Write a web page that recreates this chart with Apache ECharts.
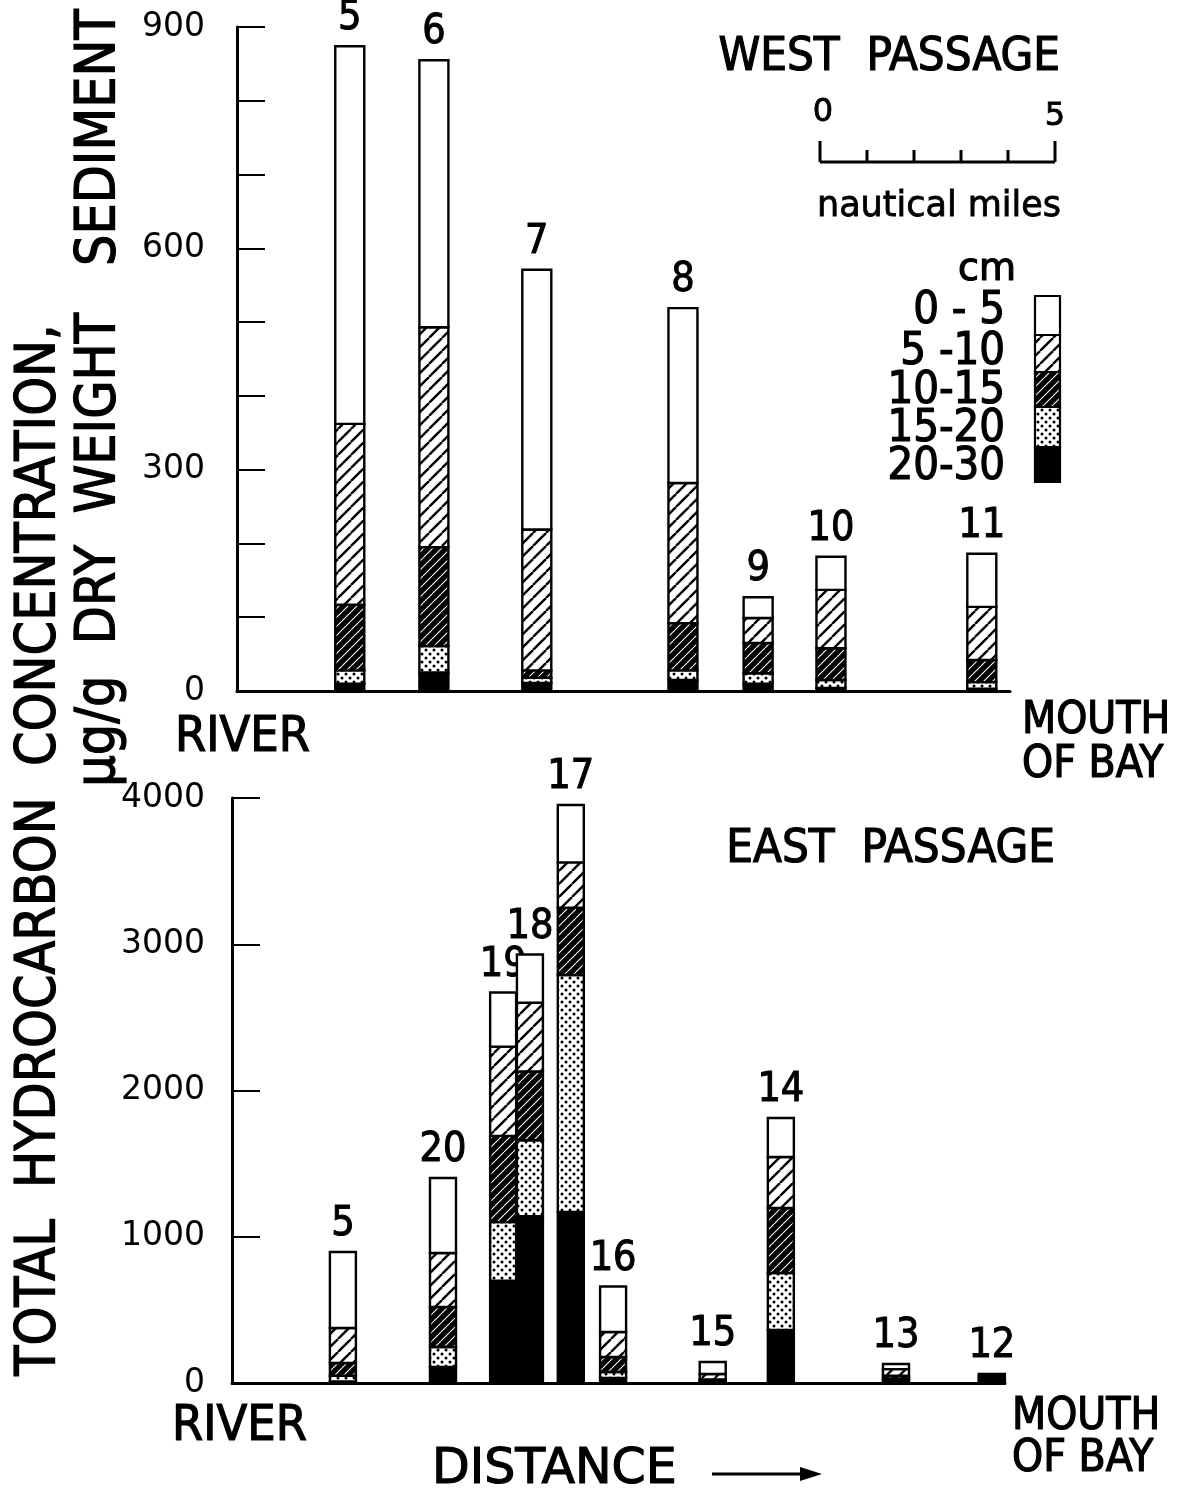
<!DOCTYPE html>
<html><head><meta charset="utf-8">
<script src="https://cdn.jsdelivr.net/npm/echarts@6/dist/echarts.min.js"></script>
<style>html,body{margin:0;padding:0;background:#fff}#c{width:1179px;height:1495px}</style>
</head><body><div id="c"></div>
<script>
// ---- data ----
const westStations = ['5','6','7','8','9','10','11'];
const westDist = [2.40, 4.19, 6.38, 9.49, 11.09, 12.64, 15.85]; // nautical miles from river
const west_0_5   = [512, 362, 352, 237, 28, 45, 72];
const west_5_10  = [245, 298, 191, 190, 34, 79, 72];
const west_10_15 = [89, 134, 10, 64, 41, 43, 30];
const west_15_20 = [18, 36, 7, 13, 14, 11, 9];
const west_20_30 = [10, 25, 11, 15, 10, 4, 3];

const eastStations = ['5','20','19','18','17','16','15','14','13','12'];
const eastDist = [2.36, 4.49, 5.77, 6.34, 7.21, 8.11, 10.23, 11.68, 14.13, 16.17];
const east_0_5   = [520, 513, 370, 330, 392, 311, 82, 267, 35, 12];
const east_5_10  = [239, 369, 610, 470, 310, 171, 37, 348, 45, 15];
const east_10_15 = [87, 274, 590, 470, 460, 103, 11, 445, 20, 10];
const east_15_20 = [40, 137, 400, 520, 1620, 40, 4, 390, 10, 10];
const east_20_30 = [10, 109, 700, 1140, 1170, 35, 10, 362, 20, 15];

const layerNames = ['20-30','15-20','10-15','5-10','0-5'];
const legendLabels = ['0 - 5','5 -10','10-15','15-20','20-30'];
const westTicks = [0, 300, 600, 900];
const eastTicks = [0, 1000, 2000, 3000, 4000];

// ---- patterns ----
function tile(size, draw){const c=document.createElement('canvas');c.width=size;c.height=size;const g=c.getContext('2d');draw(g,size);return c;}
const hatchC = tile(13,(g,s)=>{g.fillStyle='#fff';g.fillRect(0,0,s,s);g.strokeStyle='#000';g.lineWidth=2.4;for(const k of [-s,0,s]){g.beginPath();g.moveTo(k,s);g.lineTo(k+s,0);g.stroke();}});
const darkC = tile(9,(g,s)=>{g.fillStyle='#000';g.fillRect(0,0,s,s);g.strokeStyle='#fff';g.lineWidth=1.1;for(const k of [-s,0,s]){g.beginPath();g.moveTo(k,s);g.lineTo(k+s,0);g.stroke();}});
const dotC = tile(8,(g,s)=>{g.fillStyle='#fff';g.fillRect(0,0,s,s);g.fillStyle='#000';for(const p of [[2,2],[6,6]]){g.beginPath();g.arc(p[0],p[1],1.5,0,Math.PI*2);g.fill();}});
const pat = c => ({type:'pattern', image:c, repeat:'repeat'});
const fills = ['#000', pat(dotC), pat(darkC), pat(hatchC), '#fff']; // bottom -> top

const FONT = "'DejaVu Sans'";
const COND = "'DejaVu Sans Condensed','Liberation Sans Narrow','DejaVu Sans'";

const chart = echarts.init(document.getElementById('c'), null, {renderer:'canvas'});

// build stacked segments: [x, base, top, stationIndex]
function mkSeries(prefix, axisIdx, dist, layers, stations, bw){
  const base = dist.map(() => 0);
  return layers.map((vals, i) => {
    const data = vals.map((v, j) => { const d = [dist[j], base[j], base[j] + v, j]; base[j] += v; return d; });
    const isTop = i === layers.length - 1;
    return {
      name: prefix + layerNames[i], type:'custom', coordinateSystem:'cartesian2d',
      xAxisIndex: axisIdx, yAxisIndex: axisIdx, data: data, encode:{x:0, y:[1,2]},
      renderItem: (params, api) => {
        const x = api.value(0), y0 = api.value(1), y1 = api.value(2);
        const p0 = api.coord([x, y0]), p1 = api.coord([x, y1]);
        const children = [{type:'rect', shape:{x:p0[0]-bw/2, y:p1[1], width:bw, height:p0[1]-p1[1]},
          style:{fill:fills[i], stroke:'#000', lineWidth:2.4}}];
        if (isTop) children.push({type:'text', x:p1[0], y:p1[1]-7,
          style:{text:stations[api.value(3)], fill:'#000', stroke:'#000', lineWidth:1, font:'normal 41px '+COND, textAlign:'center', textVerticalAlign:'bottom'}});
        return {type:'group', children:children};
      },
      silent:true, animation:false
    };
  });
}

const yAxisCommon = {
  type:'value', min:0,
  axisLine:{show:true, lineStyle:{color:'#000', width:3}},
  axisTick:{show:true, inside:true, length:28, lineStyle:{color:'#000', width:2}},
  splitLine:{show:false},
  axisLabel:{color:'#000', fontFamily:FONT, fontSize:33}
};

const option = {
  animation:false,
  grid:[
    {left:237, top:27, width:773, height:664},
    {left:232, top:798, width:773, height:585}
  ],
  xAxis:[0,1].map(i => ({type:'value', gridIndex:i, min:0, max:16.45,
    axisLine:{show:true, onZero:false, lineStyle:{color:'#000', width:3}},
    axisTick:{show:false}, axisLabel:{show:false}, splitLine:{show:false}})),
  yAxis:[
    Object.assign({}, yAxisCommon, {gridIndex:0, max:900, interval:100,
      axisLabel:Object.assign({}, yAxisCommon.axisLabel, {margin:32, formatter: v => westTicks.includes(v) ? String(v) : ''})}),
    Object.assign({}, yAxisCommon, {gridIndex:1, max:4000, interval:1000,
      axisLabel:Object.assign({}, yAxisCommon.axisLabel, {margin:27, formatter: v => eastTicks.includes(v) ? String(v) : ''})})
  ],
  series:[
    ...mkSeries('W', 0, westDist, [west_20_30, west_15_20, west_10_15, west_5_10, west_0_5], westStations, 29),
    ...mkSeries('E', 1, eastDist, [east_20_30, east_15_20, east_10_15, east_5_10, east_0_5], eastStations, 26)
  ],
  graphic:[]
};

const G = option.graphic;
function txt(x, y, s, size, opts){
  opts = opts || {};
  const el = {type:'text', x:x, y:y, silent:true,
    style:{text:s, fill:'#000', stroke:'#000', lineWidth:opts.lw!=null?opts.lw:1.2,
      font:'normal '+size+'px '+(opts.family||COND), textAlign:opts.align||'left', textVerticalAlign:'middle'}};
  if (opts.rotation != null) el.rotation = opts.rotation;
  G.push(el);
}
// axis title (rotated)
txt(40, 850, 'TOTAL  HYDROCARBON  CONCENTRATION,', 55, {align:'center', rotation:Math.PI/2});
txt(100, 398, 'μg/g  DRY  WEIGHT   SEDIMENT', 55, {align:'center', rotation:Math.PI/2});
// panel titles
txt(1060, 58, 'WEST  PASSAGE', 47, {align:'right'});
txt(1055, 850, 'EAST  PASSAGE', 47, {align:'right'});
// river / mouth
txt(175, 738, 'RIVER', 50);
txt(172, 1427, 'RIVER', 50);
txt(1022, 722, 'MOUTH', 44);
txt(1022, 766, 'OF BAY', 44);
txt(1012, 1418, 'MOUTH', 44);
txt(1012, 1460, 'OF BAY', 44);
txt(432, 1470, 'DISTANCE', 49, {family:FONT});
G.push({type:'line', silent:true, shape:{x1:712, y1:1474, x2:806, y2:1474}, style:{stroke:'#000', lineWidth:3}});
G.push({type:'polygon', silent:true, shape:{points:[[800,1467],[822,1474],[800,1481]]}, style:{fill:'#000'}});
// scale bar
txt(823, 113, '0', 32, {family:FONT, align:'center', lw:0.8});
txt(1055, 117, '5', 32, {family:FONT, align:'center', lw:0.8});
G.push({type:'line', silent:true, shape:{x1:820, y1:162, x2:1055, y2:162}, style:{stroke:'#000', lineWidth:3}});
for (let i=0;i<=5;i++){
  const x = 820 + i*47;
  G.push({type:'line', silent:true, shape:{x1:x, y1:(i===0||i===5)?141:150, x2:x, y2:162}, style:{stroke:'#000', lineWidth:3}});
}
txt(939, 207, 'nautical miles', 35, {family:FONT, align:'center', lw:0.8});
// legend
txt(987, 270, 'cm', 38, {family:FONT, align:'center'});
const legY = [311, 352, 391, 429, 467];
legendLabels.forEach((s,i)=>txt(1005, legY[i], s, 45, {align:'right'}));
const legBox = [[296,335,4],[335,372,3],[372,407,2],[407,447,1],[447,482,0]];
legBox.forEach(b=>G.push({type:'rect', silent:true, shape:{x:1035, y:b[0], width:25, height:b[1]-b[0]},
  style:{fill:fills[b[2]], stroke:'#000', lineWidth:2.2}}));

chart.setOption(option);
</script></body></html>
